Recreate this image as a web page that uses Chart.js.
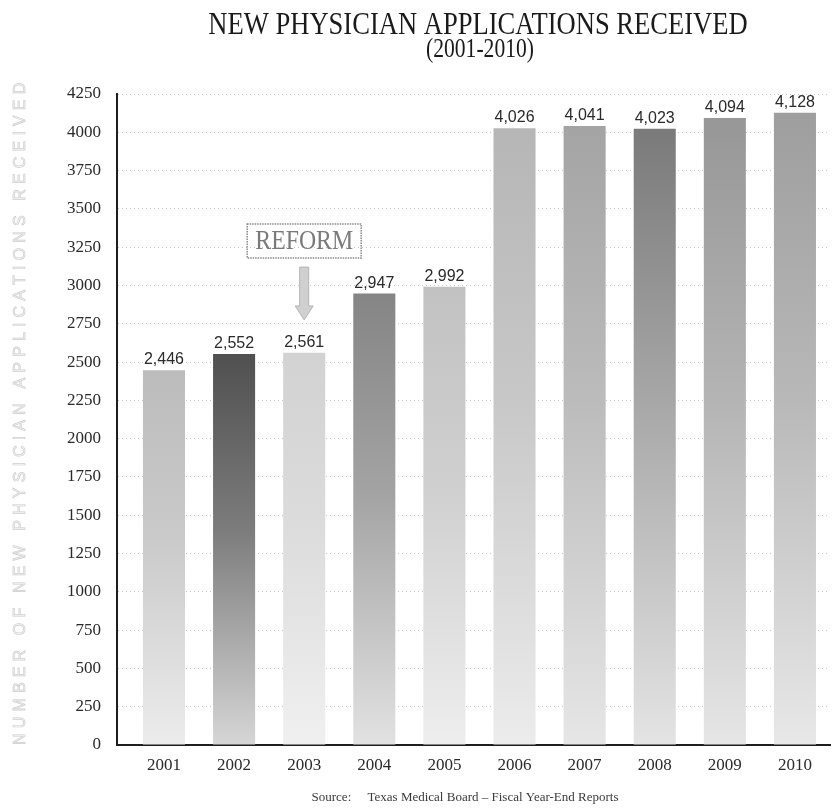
<!DOCTYPE html>
<html>
<head>
<meta charset="utf-8">
<title>New Physician Applications Received</title>
<script src="https://cdn.jsdelivr.net/npm/chart.js@4.4.1/dist/chart.umd.min.js"></script>
<style>
  html, body { margin: 0; padding: 0; background: #fff; }
  #wrap { width: 833px; height: 810px; position: relative; }
</style>
</head>
<body>
<div id="wrap"><canvas id="bar-chart"></canvas></div>
<script>
// data
var years = ['2001', '2002', '2003', '2004', '2005', '2006', '2007', '2008', '2009', '2010'];
var applications = [2446, 2552, 2561, 2947, 2992, 4026, 4041, 4023, 4094, 4128];
var yMin = 0;
var yMax = 4250;
var yStep = 250;

var titleLines = ['NEW PHYSICIAN APPLICATIONS RECEIVED', '(2001-2010)'];
var yTitle = 'NUMBER OF NEW PHYSICIAN APPLICATIONS RECEIVED';
var sourceText = 'Source:     Texas Medical Board \u2013 Fiscal Year-End Reports';

// reform note: sits over the 2003 bar
var reformIndex = 2;
var reformLabel = 'REFORM';
var reformBoxValue = 3290;
var reformArrowFrom = 3120;
var reformArrowTo = 2775;

// top / middle / bottom shades for each bar's gradient
var barShades = [
  ['#bcbcbc', '#cacaca', '#ececec'],
  ['#505050', '#7c7c7c', '#d6d6d6'],
  ['#d2d2d2', '#dcdcdc', '#f0f0f0'],
  ['#858585', '#a4a4a4', '#e2e2e2'],
  ['#c2c2c2', '#d0d0d0', '#eeeeee'],
  ['#b6b6b6', '#c8c8c8', '#ececec'],
  ['#a4a4a4', '#bcbcbc', '#e6e6e6'],
  ['#7a7a7a', '#a8a8a8', '#e4e4e4'],
  ['#979797', '#b4b4b4', '#e6e6e6'],
  ['#9e9e9e', '#b8b8b8', '#e8e8e8']
];

var SERIF = '"Liberation Serif", "Times New Roman", serif';
var SANS = '"Liberation Sans", Arial, sans-serif';

var barFill = function(c) {
  var chart = c.chart;
  var area = chart.chartArea;
  var sh = barShades[c.dataIndex] || barShades[0];
  if (!area || c.type !== 'data') return sh[1];
  var top = chart.scales.y.getPixelForValue(applications[c.dataIndex]);
  var g = chart.ctx.createLinearGradient(0, top, 0, area.bottom);
  g.addColorStop(0, sh[0]);
  g.addColorStop(0.45, sh[1]);
  g.addColorStop(1, sh[2]);
  return g;
};

// titles, axis title, value labels, reform note, source line
var decorations = {
  id: 'decorations',
  afterDatasetsDraw: function(chart) {
    var ctx = chart.ctx;
    var meta = chart.getDatasetMeta(0);
    ctx.save();
    ctx.fillStyle = '#2a2a2a';
    ctx.font = '16px ' + SANS;
    ctx.textAlign = 'center';
    ctx.textBaseline = 'alphabetic';
    meta.data.forEach(function(bar, i) {
      ctx.fillText(applications[i].toLocaleString('en-US'), bar.x, bar.y - 6);
    });
    ctx.restore();
  },
  afterDraw: function(chart) {
    var ctx = chart.ctx;
    var area = chart.chartArea;
    var x = chart.scales.x, y = chart.scales.y;

    // main title (condensed serif)
    ctx.save();
    ctx.fillStyle = '#1a1a1a';
    ctx.textAlign = 'center';
    ctx.textBaseline = 'alphabetic';
    ctx.font = '32px ' + SERIF;
    ctx.setTransform(0.83, 0, 0, 1, 0, 0);
    ctx.fillText(titleLines[0], 478 / 0.83, 34);
    ctx.font = '27px ' + SERIF;
    ctx.setTransform(0.8, 0, 0, 1, 0, 0);
    ctx.fillText(titleLines[1], 480 / 0.8, 57);
    ctx.restore();

    // y axis title, spaced out along the axis
    ctx.save();
    ctx.font = '16px ' + SANS;
    var span = area.bottom - area.top + 10;
    var plain = ctx.measureText(yTitle).width;
    var gap = (span - plain) / (yTitle.length - 1);
    ctx.translate(21, (area.top + area.bottom) / 2 - 5);
    ctx.rotate(-Math.PI / 2);
    ctx.textBaseline = 'middle';
    ctx.fillStyle = '#fafafa';
    ctx.strokeStyle = '#cdcdcd';
    ctx.lineWidth = 0.7;
    var cx = -span / 2;
    for (var k = 0; k < yTitle.length; k++) {
      ctx.fillText(yTitle[k], cx, 0);
      ctx.strokeText(yTitle[k], cx, 0);
      cx += ctx.measureText(yTitle[k]).width + gap;
    }
    ctx.restore();

    // reform box + arrow
    var rx = x.getPixelForValue(reformIndex);
    var by = y.getPixelForValue(reformBoxValue);
    ctx.save();
    ctx.strokeStyle = '#8a8a8a';
    ctx.lineWidth = 1.5;
    ctx.setLineDash([1.5, 1]);
    ctx.strokeRect(rx - 57, by - 17, 114, 34);
    ctx.setLineDash([]);
    ctx.fillStyle = '#7a7a7a';
    ctx.font = '28px ' + SERIF;
    ctx.textAlign = 'center';
    ctx.textBaseline = 'middle';
    ctx.translate(rx, by + 1);
    ctx.scale(0.85, 1);
    ctx.fillText(reformLabel, 0, 0);
    ctx.restore();

    var a0 = y.getPixelForValue(reformArrowFrom);
    var a1 = y.getPixelForValue(reformArrowTo);
    ctx.save();
    ctx.fillStyle = '#d0d0d0';
    ctx.strokeStyle = '#b4b4b4';
    ctx.lineWidth = 1;
    ctx.beginPath();
    ctx.moveTo(rx - 4.5, a0);
    ctx.lineTo(rx + 4.5, a0);
    ctx.lineTo(rx + 4.5, a1 - 14);
    ctx.lineTo(rx + 9, a1 - 14);
    ctx.lineTo(rx, a1);
    ctx.lineTo(rx - 9, a1 - 14);
    ctx.lineTo(rx - 4.5, a1 - 14);
    ctx.closePath();
    ctx.fill();
    ctx.stroke();
    ctx.restore();

    // source line
    ctx.save();
    ctx.fillStyle = '#3a3a3a';
    ctx.font = '13px ' + SERIF;
    ctx.textAlign = 'center';
    ctx.textBaseline = 'alphabetic';
    ctx.fillText(sourceText, 465, 801);
    ctx.restore();
  }
};

new Chart(document.getElementById('bar-chart'), {
  type: 'bar',
  data: {
    datasets: [{
      label: 'New physician applications',
      data: applications.map(function(v, i) { return { x: i, y: v }; }),
      backgroundColor: barFill,
      borderWidth: 0,
      categoryPercentage: 1,
      barPercentage: 0.6
    }]
  },
  options: {
    responsive: true,
    maintainAspectRatio: false,
    animation: false,
    layout: { padding: { top: 94, left: 12, right: 3, bottom: 0 } },
    plugins: {
      legend: { display: false },
      title: { display: false },
      tooltip: { enabled: false }
    },
    scales: {
      x: {
        type: 'linear',
        offset: false,
        min: -0.67,
        max: 9.5,
        grid: { display: false, drawTicks: false, offset: false },
        border: { display: true, color: '#1e1e1e', width: 2 },
        afterFit: function(s) { s.height = 65; },
        ticks: {
          stepSize: 1,
          includeBounds: false,
          padding: 10,
          color: '#2a2a2a',
          font: { family: SERIF, size: 17 },
          callback: function(v) { return years[v] !== undefined ? years[v] : ''; }
        }
      },
      y: {
        min: yMin,
        max: yMax,
        grid: { color: '#c6c6c6', lineWidth: 1, drawTicks: false },
        border: { display: true, color: '#1e1e1e', width: 2, dash: [1, 3] },
        afterFit: function(s) { s.width = 105; },
        ticks: {
          stepSize: yStep,
          padding: 16,
          color: '#2a2a2a',
          font: { family: SERIF, size: 17 },
          callback: function(v) { return String(v); }
        }
      }
    }
  },
  plugins: [decorations]
});
</script>
</body>
</html>
